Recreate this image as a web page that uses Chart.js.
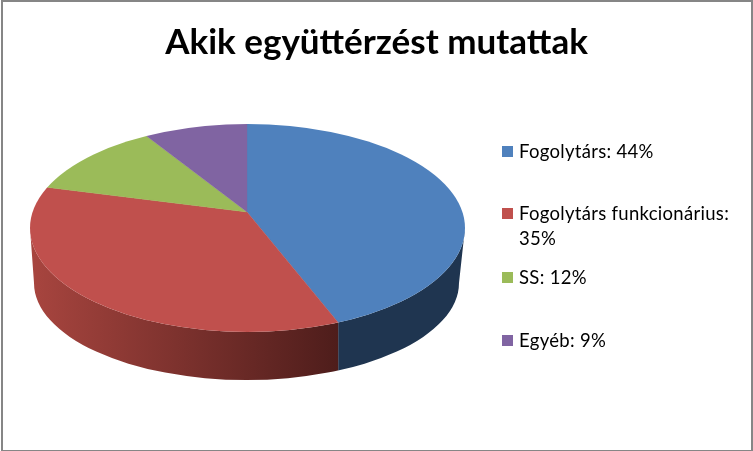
<!DOCTYPE html>
<html>
<head>
<meta charset="utf-8">
<script src="https://cdn.jsdelivr.net/npm/chart.js@4/dist/chart.umd.min.js"></script>
<style>
body { margin: 0; background: #fff; }
#box { position: relative; width: 753px; height: 451px; overflow: hidden; }
#frame { position: absolute; left: 1px; top: 0; width: 752px; height: 451px; box-sizing: border-box;
	border: 2px solid #868686; border-bottom-width: 1px; pointer-events: none; }
#legend div { position: absolute; left: 519px; width: 225px; font: 18.5px/25px Lato, sans-serif; letter-spacing: 0.3px; color: #000; }
#legend i { position: absolute; left: -17px; top: 7px; width: 11px; height: 11px; }
</style>
</head>
<body>
<div id="box">
	<canvas id="pie-chartcanvas" width="753" height="451"></canvas>
	<div id="legend"></div>
	<div id="frame"></div>
</div>
<script>
var chartTitle = "Akik együttérzést mutattak";
var categories = ["Fogolytárs", "Fogolytárs funkcionárius", "SS", "Egyéb"];
var shares = [44, 35, 12, 9];

var colors = ["#4F81BD", "#C0504D", "#9BBB59", "#8064A2"];
var wallColors = [["#1F3550", "#1F3550"], ["#A8453F", "#4E1D1B"], ["#9BBB59", "#9BBB59"], ["#8064A2", "#8064A2"]];
var legendTop = [139, 201, 265, 328];

// the tilted look: slices meet at the apex, the rim is an ellipse a bit lower down
var apex = { x: 247, y: 212, flatten: 0.48 };
var rim = { x: 247.5, y: 228, rx: 217.5, ry: 104 };
var base = { x: 246.5, y: 283, rx: 212.5, ry: 97 };

function rimX(angle) {
	var dx = Math.cos(angle), dy = Math.sin(angle) * apex.flatten;
	var px = (apex.x - rim.x) / rim.rx, py = (apex.y - rim.y) / rim.ry;
	var qx = dx / rim.rx, qy = dy / rim.ry;
	var a = qx * qx + qy * qy, b = 2 * (px * qx + py * qy), c = px * px + py * py - 1;
	var t = (-b + Math.sqrt(b * b - 4 * a * c)) / (2 * a);
	return apex.x + t * dx;
}

function drawWalls(chart) {
	var ctx = chart.ctx;
	chart.getDatasetMeta(0).data.forEach(function(arc, i) {
		var lo = Math.max(arc.startAngle, 0), hi = Math.min(arc.endAngle, Math.PI);
		if (hi <= lo) return;
		var right = lo === 0 ? rim.x + rim.rx : rimX(lo);
		var left = hi === Math.PI ? rim.x - rim.rx : rimX(hi);
		var fill = ctx.createLinearGradient(left, 0, right, 0);
		fill.addColorStop(0, wallColors[i][0]);
		fill.addColorStop(1, wallColors[i][1]);
		ctx.save();
		ctx.beginPath();
		ctx.rect(left, 0, right - left, 451);
		ctx.clip();
		ctx.beginPath();
		ctx.ellipse(rim.x, rim.y, rim.rx, rim.ry, 0, 0, Math.PI);
		ctx.ellipse(base.x, base.y, base.rx, base.ry, 0, Math.PI, 0, true);
		ctx.closePath();
		ctx.fillStyle = fill;
		ctx.fill();
		ctx.restore();
	});
}

var tiltPlugin = {
	id: "tilt",
	beforeDatasetsDraw: function(chart) {
		var ctx = chart.ctx, arc = chart.getDatasetMeta(0).data[0];
		drawWalls(chart);
		ctx.save();
		ctx.beginPath();
		ctx.ellipse(rim.x, rim.y, rim.rx, rim.ry, 0, 0, Math.PI * 2);
		ctx.clip();
		ctx.translate(apex.x, apex.y);
		ctx.scale(1, apex.flatten);
		ctx.translate(-arc.x, -arc.y);
	},
	afterDatasetsDraw: function(chart) {
		chart.ctx.restore();
	}
};

var chart = new Chart(document.getElementById("pie-chartcanvas"), {
	type: "pie",
	data: {
		labels: categories,
		datasets: [{
			data: shares,
			backgroundColor: colors,
			borderColor: colors,
			borderWidth: 0.5,
			clip: false
		}]
	},
	options: {
		responsive: false,
		animation: false,
		events: [],
		radius: 300,
		plugins: {
			legend: { display: false },
			tooltip: { enabled: false },
			title: {
				display: true,
				text: chartTitle,
				color: "#000",
				font: { family: "Lato", size: 35, weight: "bold" },
				padding: { top: 22, bottom: 0 }
			}
		}
	},
	plugins: [tiltPlugin]
});

categories.forEach(function(name, i) {
	var item = document.createElement("div");
	item.style.top = legendTop[i] + "px";
	item.textContent = name + ": " + shares[i] + "%";
	var swatch = document.createElement("i");
	swatch.style.background = colors[i];
	item.appendChild(swatch);
	document.getElementById("legend").appendChild(item);
});
</script>
</body>
</html>
